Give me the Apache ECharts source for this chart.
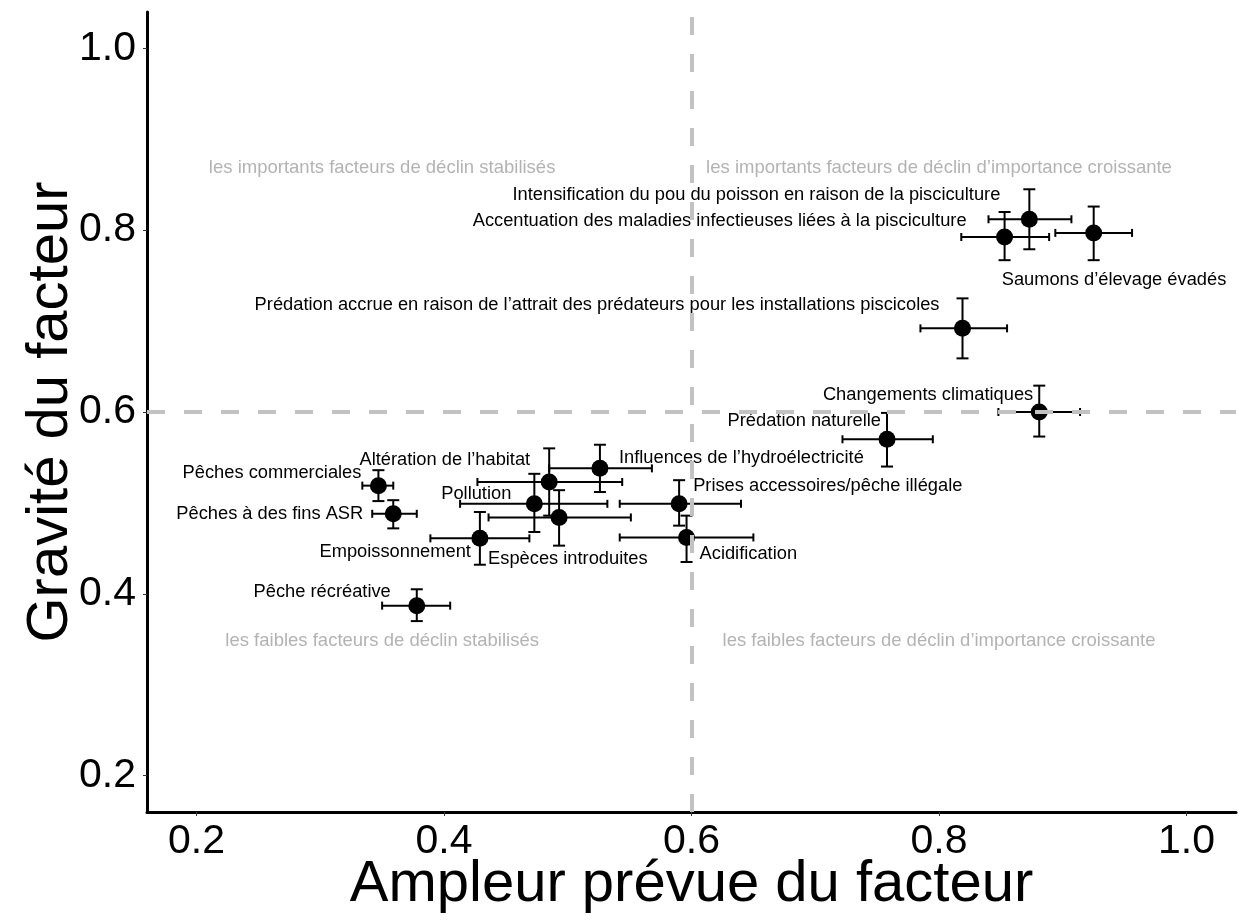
<!DOCTYPE html>
<html>
<head>
<meta charset="utf-8">
<script src="https://cdn.jsdelivr.net/npm/echarts@6/dist/echarts.min.js"></script>
<style>
  html, body { margin: 0; padding: 0; background: #fff; }
  #chart { width: 1239px; height: 922px; }
</style>
</head>
<body>
<div id="chart"></div>
<script>
// ---- data ----
const names = [
  'Pêches commerciales',
  'Pêches à des fins ASR',
  'Pêche récréative',
  'Empoissonnement',
  'Pollution',
  'Altération de l’habitat',
  'Espèces introduites',
  'Influences de l’hydroélectricité',
  'Prises accessoires/pêche illégale',
  'Acidification',
  'Prédation naturelle',
  'Changements climatiques',
  'Prédation accrue en raison de l’attrait des prédateurs pour les installations piscicoles',
  'Accentuation des maladies infectieuses liées à la pisciculture',
  'Intensification du pou du poisson en raison de la pisciculture',
  'Saumons d’élevage évadés'
];
const ampleur    = [0.347, 0.359, 0.378, 0.429, 0.473, 0.485, 0.493, 0.526, 0.590, 0.596, 0.758, 0.881, 0.819, 0.853, 0.873, 0.925];
const ampleurLow = [0.334, 0.342, 0.350, 0.389, 0.413, 0.427, 0.436, 0.485, 0.542, 0.542, 0.722, 0.848, 0.785, 0.818, 0.840, 0.894];
const ampleurHigh= [0.359, 0.378, 0.405, 0.469, 0.532, 0.544, 0.551, 0.568, 0.640, 0.650, 0.795, 0.914, 0.855, 0.889, 0.907, 0.956];
const gravite    = [0.519, 0.488, 0.387, 0.461, 0.499, 0.523, 0.484, 0.538, 0.499, 0.462, 0.570, 0.600, 0.692, 0.7925, 0.812, 0.797];
const graviteLow = [0.502, 0.472, 0.370, 0.432, 0.468, 0.486, 0.453, 0.512, 0.475, 0.435, 0.540, 0.573, 0.659, 0.767, 0.779, 0.767];
const graviteHigh= [0.536, 0.503, 0.405, 0.490, 0.532, 0.560, 0.514, 0.564, 0.525, 0.486, 0.599, 0.629, 0.725, 0.820, 0.845, 0.826];

const tickValues = [0.2, 0.4, 0.6, 0.8, 1.0];
const tickLabels = ['0.2', '0.4', '0.6', '0.8', '1.0'];

const quadrantText = [
  'les importants facteurs de déclin stabilisés',
  'les importants facteurs de déclin d’importance croissante',
  'les faibles facteurs de déclin stabilisés',
  'les faibles facteurs de déclin d’importance croissante'
];
const quadrantX = [0.35, 0.80, 0.35, 0.80];
const quadrantY = [0.868, 0.868, 0.348, 0.348];
const threshold = 0.6;

// ---- label layout (pixel offsets from point, text alignment) ----
const labelLayout = [
  ['right', -17, -13],
  ['right', -30, 0],
  ['right', -26, -14],
  ['right', -9, 14],
  ['right', -23, -10],
  ['right', -19, -22],
  ['left', -71, 42],
  ['left', 19, -10],
  ['left', 14, -18],
  ['left', 13, 17],
  ['right', -6, -18],
  ['right', -6, -17],
  ['right', -23, -23],
  ['right', -38, -16],
  ['right', -29, -24],
  ['left', -92, 47]
];

const FONT = '"Liberation Sans", Arial, sans-serif';

const pts = names.map((n, i) => [ampleur[i], gravite[i], ampleurLow[i], ampleurHigh[i], graviteLow[i], graviteHigh[i], i]);

const chart = echarts.init(document.getElementById('chart'), null, { renderer: 'canvas' });

const option = {
  animation: false,
  backgroundColor: '#ffffff',
  grid: { left: 147, right: 3, top: 12, bottom: 110, containLabel: false, outerBoundsMode: 'none' },
  xAxis: {
    type: 'value', min: 0.16, max: 1.04,
    name: 'Ampleur prévue du facteur',
    nameLocation: 'middle', nameGap: 44, nameMoveOverlap: false,
    nameTextStyle: { fontFamily: FONT, fontSize: 58, color: '#000' },
    axisLine: { show: true, onZero: false, lineStyle: { color: '#000', width: 3 } },
    axisTick: { show: true, customValues: tickValues, length: 4, lineStyle: { color: '#333', width: 1 } },
    axisLabel: { customValues: tickValues, formatter: v => tickLabels[tickValues.findIndex(t => Math.abs(t - v) < 1e-9)] || '', fontFamily: FONT, fontSize: 41, color: '#000', margin: 9 },
    splitLine: { show: false }
  },
  yAxis: {
    type: 'value', min: 0.16, max: 1.04,
    name: 'Gravité du facteur',
    nameLocation: 'middle', nameGap: 67, nameRotate: 90, nameMoveOverlap: false,
    nameTextStyle: { fontFamily: FONT, fontSize: 58, color: '#000' },
    axisLine: { show: true, onZero: false, lineStyle: { color: '#000', width: 3 } },
    axisTick: { show: true, customValues: tickValues, length: 4, lineStyle: { color: '#333', width: 1 } },
    axisLabel: { customValues: tickValues, formatter: v => tickLabels[tickValues.findIndex(t => Math.abs(t - v) < 1e-9)] || '', fontFamily: FONT, fontSize: 41, color: '#000', margin: 11 },
    splitLine: { show: false }
  },
  series: [
    {
      // quadrant annotations
      type: 'custom',
      z: 1,
      silent: true,
      data: quadrantText.map((t, i) => [quadrantX[i], quadrantY[i], i]),
      renderItem: function (params, api) {
        const c = api.coord([api.value(0), api.value(1)]);
        const i = api.value(2);
        return {
          type: 'text',
          style: { x: c[0], y: c[1], text: quadrantText[i], fill: '#b3b3b3', font: '18.5px ' + FONT, align: 'center', verticalAlign: 'middle' }
        };
      }
    },
    {
      // error bars
      type: 'custom',
      z: 2,
      silent: true,
      data: pts,
      renderItem: function (params, api) {
        const c = api.coord([api.value(0), api.value(1)]);
        const xl = api.coord([api.value(2), api.value(1)]);
        const xh = api.coord([api.value(3), api.value(1)]);
        const yl = api.coord([api.value(0), api.value(4)]);
        const yh = api.coord([api.value(0), api.value(5)]);
        const st = { stroke: '#000', lineWidth: 2 };
        const hc = 6, vc = 4;
        return {
          type: 'group',
          children: [
            { type: 'line', shape: { x1: xl[0], y1: c[1], x2: xh[0], y2: c[1] }, style: st },
            { type: 'line', shape: { x1: xl[0], y1: c[1] - vc, x2: xl[0], y2: c[1] + vc }, style: st },
            { type: 'line', shape: { x1: xh[0], y1: c[1] - vc, x2: xh[0], y2: c[1] + vc }, style: st },
            { type: 'line', shape: { x1: c[0], y1: yl[1], x2: c[0], y2: yh[1] }, style: st },
            { type: 'line', shape: { x1: c[0] - hc, y1: yl[1], x2: c[0] + hc, y2: yl[1] }, style: st },
            { type: 'line', shape: { x1: c[0] - hc, y1: yh[1], x2: c[0] + hc, y2: yh[1] }, style: st }
          ]
        };
      }
    },
    {
      type: 'scatter',
      z: 3,
      silent: true,
      symbol: 'circle',
      symbolSize: 17,
      itemStyle: { color: '#000', opacity: 1 },
      data: pts.map(p => [p[0], p[1]])
    },
    {
      // point labels
      type: 'custom',
      z: 4,
      silent: true,
      data: pts,
      renderItem: function (params, api) {
        const c = api.coord([api.value(0), api.value(1)]);
        const i = api.value(6);
        const L = labelLayout[i];
        return {
          type: 'text',
          style: { x: c[0] + L[1], y: c[1] + L[2], text: names[i], fill: '#000', font: '18.3px ' + FONT, align: L[0], verticalAlign: 'middle' }
        };
      }
    },
    {
      // threshold lines (drawn above points)
      type: 'line',
      z: 5,
      silent: true,
      data: [],
      markLine: {
        silent: true,
        symbol: 'none',
        label: { show: false },
        lineStyle: { color: '#c2c2c2', width: 4, type: [18, 19] },
        data: [{ xAxis: threshold }, { yAxis: threshold }]
      }
    }
  ]
};
chart.setOption(option);
</script>
</body>
</html>
